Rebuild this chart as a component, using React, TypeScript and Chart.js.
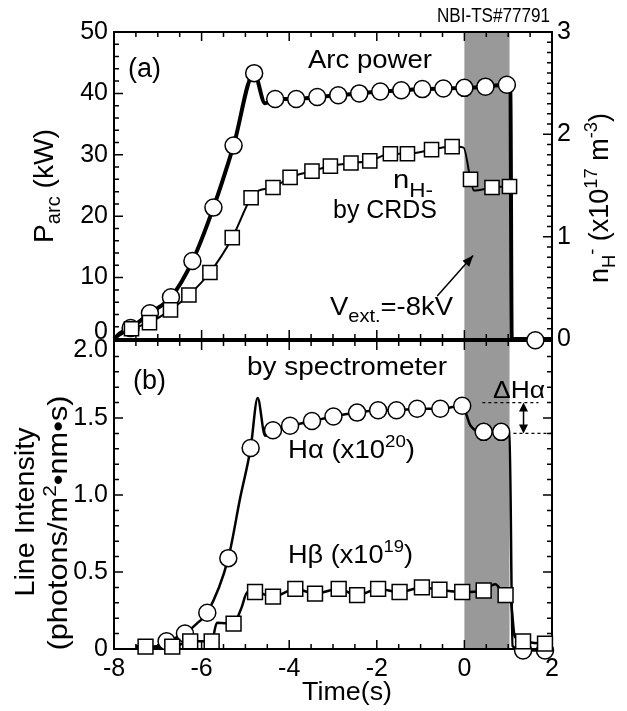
import React, { useEffect, useRef } from "react";
import { Chart, registerables } from "chart.js";
Chart.register(...registerables);

const FONT = '"Liberation Sans", Arial, Helvetica, sans-serif';

// ---------- panel (a) ----------
const arcTime = [-7.62, -7.18, -6.70, -6.21, -5.73, -5.27, -4.80, -4.32, -3.84, -3.36, -2.88, -2.40, -1.92, -1.44, -0.96, -0.48, 0.0, 0.48, 0.97, 1.62];
const arcPower = [1.8, 4.2, 6.8, 12.7, 21.4, 31.5, 43.3, 39.1, 39.1, 39.4, 39.7, 40.0, 40.3, 40.5, 40.7, 40.8, 40.9, 41.1, 41.4, -0.2];
const arcLineTime = [-8.0, -7.85, -7.62, -7.18, -6.70, -6.21, -5.73, -5.27, -4.80, -4.55, -4.32, -3.84, -3.36, -2.88, -2.40, -1.92, -1.44, -0.96, -0.48, 0.0, 0.48, 0.97, 1.05, 1.08, 1.62, 2.0];
const arcLinePower = [0.0, 1.0, 1.8, 4.2, 6.8, 12.7, 21.4, 31.5, 43.3, 38.4, 39.1, 39.1, 39.4, 39.7, 40.0, 40.3, 40.5, 40.7, 40.8, 40.9, 41.1, 41.4, 41.0, 0.0, 0.0, 0.0];

const nTime = [-7.60, -7.19, -6.71, -6.29, -5.81, -5.30, -4.87, -4.37, -3.98, -3.48, -3.06, -2.59, -2.16, -1.69, -1.30, -0.75, -0.28, 0.14, 0.63, 1.03];
const nDensity = [0.10, 0.16, 0.285, 0.43, 0.65, 0.99, 1.38, 1.48, 1.58, 1.64, 1.69, 1.72, 1.74, 1.81, 1.81, 1.85, 1.88, 1.56, 1.48, 1.49];
const nLineTime = [-8.0, -7.60, -7.19, -6.71, -6.29, -5.81, -5.30, -4.87, -4.70, -4.37, -3.98, -3.48, -3.06, -2.59, -2.16, -1.69, -1.30, -0.75, -0.28, -0.02, 0.14, 0.22, 0.63, 1.03, 1.07, 1.09, 2.0];
const nLineDensity = [0.0, 0.10, 0.16, 0.285, 0.43, 0.65, 0.99, 1.38, 1.45, 1.48, 1.58, 1.64, 1.69, 1.72, 1.74, 1.81, 1.81, 1.85, 1.88, 1.87, 1.56, 1.45, 1.48, 1.49, 1.45, 0.0, 0.0];

// ---------- panel (b) ----------
const haTime = [-6.80, -6.38, -5.87, -5.39, -4.88, -4.37, -3.98, -3.48, -2.99, -2.45, -1.97, -1.55, -1.08, -0.55, -0.05, 0.44, 0.84, 1.34, 1.84];
const haValue = [0.05, 0.10, 0.235, 0.59, 1.305, 1.42, 1.45, 1.48, 1.51, 1.535, 1.55, 1.55, 1.56, 1.56, 1.58, 1.41, 1.41, -0.01, -0.01];
const haLineTime = [-7.5, -7.0, -6.80, -6.38, -6.11, -5.87, -5.39, -5.12, -4.88, -4.72, -4.55, -4.37, -3.98, -3.48, -2.99, -2.45, -1.97, -1.55, -1.08, -0.55, -0.05, 0.14, 0.44, 0.84, 1.03, 1.10, 1.34, 1.84, 2.0];
const haLineValue = [0.01, 0.02, 0.05, 0.10, 0.165, 0.235, 0.59, 0.98, 1.305, 1.63, 1.385, 1.42, 1.45, 1.48, 1.51, 1.535, 1.55, 1.55, 1.56, 1.56, 1.58, 1.45, 1.41, 1.41, 1.40, 0.02, -0.01, -0.01, 0.02];

const hbTime = [-7.28, -6.67, -6.26, -5.77, -5.27, -4.78, -4.37, -3.86, -3.41, -2.87, -2.45, -1.97, -1.48, -0.97, -0.57, -0.05, 0.44, 0.94, 1.34, 1.84];
const hbValue = [0.015, 0.015, 0.05, 0.05, 0.165, 0.37, 0.34, 0.39, 0.36, 0.39, 0.35, 0.39, 0.37, 0.40, 0.385, 0.37, 0.38, 0.35, 0.05, 0.035];
const hbLineTime = [-7.5, -7.28, -6.67, -6.26, -5.77, -5.65, -5.27, -5.10, -4.95, -4.78, -4.37, -3.86, -3.41, -2.87, -2.45, -1.97, -1.48, -0.97, -0.57, -0.05, 0.44, 0.70, 0.94, 1.05, 1.15, 1.34, 1.84, 2.0];
const hbLineValue = [0.02, 0.015, 0.015, 0.05, 0.05, 0.17, 0.165, 0.26, 0.37, 0.37, 0.34, 0.39, 0.36, 0.39, 0.35, 0.39, 0.37, 0.40, 0.385, 0.37, 0.38, 0.42, 0.35, 0.33, 0.08, 0.05, 0.035, 0.04];

// ---------- axes / annotations ----------
const timeTicks = [-8, -6, -4, -2, 0, 2];
const timeTickLabels = ["-8", "-6", "-4", "-2", "0", "2"];
const powerTicks = [0, 10, 20, 30, 40, 50];
const densityTicks = [0, 1, 2, 3];
const intensityTicks = [0, 0.5, 1.0, 1.5, 2.0];
const intensityTickLabels = ["0", "0.5", "1.0", "1.5", "2.0"];
const beamOn = [0, 1.03];
const deltaHa = [1.6, 1.4];
const arrowFrom = [-0.62, 7.0];
const arrowTo = [0.2, 13.6];

type Seg = { t: string; size: number; dy?: number };

function drawRich(
  ctx: CanvasRenderingContext2D,
  segs: Seg[],
  x: number,
  y: number,
  opts: { align?: "left" | "center" | "right"; rotate?: number; width?: number } = {}
) {
  ctx.save();
  let w = 0;
  for (const s of segs) {
    ctx.font = `${s.size}px ${FONT}`;
    w += ctx.measureText(s.t).width;
  }
  const sx = opts.width ? opts.width / w : 1;
  ctx.translate(x, y);
  if (opts.rotate) ctx.rotate(opts.rotate);
  ctx.scale(sx, 1);
  let cx = opts.align === "center" ? -w / 2 : opts.align === "right" ? -w : 0;
  ctx.fillStyle = "#000";
  ctx.textAlign = "left";
  ctx.textBaseline = "alphabetic";
  for (const s of segs) {
    ctx.font = `${s.size}px ${FONT}`;
    ctx.fillText(s.t, cx, s.dy || 0);
    cx += ctx.measureText(s.t).width;
  }
  ctx.restore();
}

function ticksAlong(
  ctx: CanvasRenderingContext2D,
  scale: any,
  from: number,
  to: number,
  minor: number,
  major: number,
  fixed: number,
  dir: number,
  horizontal: boolean
) {
  ctx.beginPath();
  const n = Math.round((to - from) / minor);
  for (let k = 0; k <= n; k++) {
    const v = from + k * minor;
    const isMaj = Math.abs(v / major - Math.round(v / major)) < 1e-6;
    const len = isMaj ? 9 : 5;
    const p = scale.getPixelForValue(v);
    if (horizontal) {
      ctx.moveTo(p, fixed);
      ctx.lineTo(p, fixed + dir * len);
    } else {
      ctx.moveTo(fixed, p);
      ctx.lineTo(fixed + dir * len, p);
    }
  }
  ctx.stroke();
}

function arrowHead(ctx: CanvasRenderingContext2D, x1: number, y1: number, x2: number, y2: number, len: number, half: number) {
  const ang = Math.atan2(y2 - y1, x2 - x1);
  ctx.beginPath();
  ctx.moveTo(x2, y2);
  ctx.lineTo(x2 - len * Math.cos(ang) + half * Math.sin(ang), y2 - len * Math.sin(ang) - half * Math.cos(ang));
  ctx.lineTo(x2 - len * Math.cos(ang) - half * Math.sin(ang), y2 - len * Math.sin(ang) + half * Math.cos(ang));
  ctx.closePath();
  ctx.fill();
}

const pts = (xs: number[], ys: number[]) => xs.map((x, i) => ({ x, y: ys[i] }));

const tickFont = { family: FONT, size: 25 };

function lineDs(data: any, axis: string, width: number, order: number) {
  return {
    data,
    yAxisID: axis,
    showLine: true,
    borderColor: "#000",
    borderWidth: width,
    borderJoinStyle: "round",
    pointRadius: 0,
    cubicInterpolationMode: "monotone",
    order,
    clip: false as any,
  };
}
function markerDs(data: any, axis: string, style: string, radius: number, order: number) {
  return {
    data,
    yAxisID: axis,
    showLine: false,
    pointStyle: style,
    pointRadius: radius,
    pointBackgroundColor: "#fff",
    pointBorderColor: "#000",
    pointBorderWidth: 1.5,
    order,
    clip: false as any,
  };
}

const topPlugin = {
  id: "topDeco",
  beforeDatasetsDraw(chart: any) {
    const ctx: CanvasRenderingContext2D = chart.ctx;
    const a = chart.chartArea;
    const x = chart.scales.x;
    const y = chart.scales.y;
    const yR = chart.scales.yR;
    ctx.save();
    const x0 = x.getPixelForValue(beamOn[0]);
    const x1 = x.getPixelForValue(beamOn[1]);
    ctx.fillStyle = "#999999";
    ctx.fillRect(x0, a.top, x1 - x0, a.bottom - a.top);
    ctx.strokeStyle = "#000";
    ctx.lineWidth = 2;
    ctx.strokeRect(a.left, a.top, a.right - a.left, a.bottom - a.top);
    ctx.lineWidth = 1.5;
    ticksAlong(ctx, x, -8, 2, 0.5, 2, a.top, 1, true);
    ticksAlong(ctx, x, -8, 2, 0.5, 2, a.bottom, -1, true);
    ticksAlong(ctx, y, 0, 50, 2, 10, a.left, 1, false);
    ticksAlong(ctx, yR, 0, 3, 0.1, 1, a.right, -1, false);
    ctx.restore();
  },
  afterDatasetsDraw(chart: any) {
    const ctx: CanvasRenderingContext2D = chart.ctx;
    const x = chart.scales.x;
    const y = chart.scales.y;
    ctx.save();
    ctx.font = `25px ${FONT}`;
    ctx.fillStyle = "#000";
    ctx.textAlign = "right";
    ctx.textBaseline = "middle";
    ctx.fillText("0", 108, y.getPixelForValue(0) - 7);

    drawRich(ctx, [{ t: "NBI-TS#77791", size: 20 }], 437, 22, { width: 113 });
    drawRich(ctx, [{ t: "(a)", size: 27 }], 128, 77);
    drawRich(ctx, [{ t: "Arc power", size: 26 }], 308, 68, { width: 124 });
    drawRich(ctx, [{ t: "n", size: 26 }, { t: "H-", size: 20, dy: 9 }], 393, 188, { width: 40 });
    drawRich(ctx, [{ t: "by CRDS", size: 26 }], 333, 218, { width: 104 });
    drawRich(
      ctx,
      [{ t: "V", size: 26 }, { t: "ext.", size: 19, dy: 7 }, { t: "=-8kV", size: 26 }],
      330,
      315,
      { width: 123 }
    );
    const ax1 = x.getPixelForValue(arrowFrom[0]);
    const ay1 = y.getPixelForValue(arrowFrom[1]);
    const ax2 = x.getPixelForValue(arrowTo[0]);
    const ay2 = y.getPixelForValue(arrowTo[1]);
    ctx.strokeStyle = "#000";
    ctx.fillStyle = "#000";
    ctx.lineWidth = 1.5;
    ctx.beginPath();
    ctx.moveTo(ax1, ay1);
    ctx.lineTo(ax2, ay2);
    ctx.stroke();
    arrowHead(ctx, ax1, ay1, ax2, ay2, 11, 4.5);

    drawRich(
      ctx,
      [{ t: "P", size: 28 }, { t: "arc", size: 20, dy: 7 }, { t: " (kW)", size: 28 }],
      53,
      186,
      { align: "center", rotate: -Math.PI / 2, width: 114 }
    );
    drawRich(
      ctx,
      [
        { t: "n", size: 28 },
        { t: "H", size: 19, dy: 7 },
        { t: "-", size: 19, dy: -10 },
        { t: " (x10", size: 28 },
        { t: "17", size: 19, dy: -11 },
        { t: " m", size: 28 },
        { t: "-3", size: 19, dy: -11 },
        { t: ")", size: 28 },
      ],
      608,
      198,
      { align: "center", rotate: -Math.PI / 2, width: 170 }
    );
    ctx.restore();
  },
};

const bottomPlugin = {
  id: "bottomDeco",
  beforeDatasetsDraw(chart: any) {
    const ctx: CanvasRenderingContext2D = chart.ctx;
    const a = chart.chartArea;
    const x = chart.scales.x;
    const y = chart.scales.y;
    ctx.save();
    const x0 = x.getPixelForValue(beamOn[0]);
    const x1 = x.getPixelForValue(beamOn[1]);
    ctx.fillStyle = "#999999";
    ctx.fillRect(x0, a.top, x1 - x0, a.bottom - a.top);
    ctx.strokeStyle = "#000";
    ctx.lineWidth = 2;
    ctx.strokeRect(a.left, a.top, a.right - a.left, a.bottom - a.top);
    ctx.lineWidth = 1.5;
    ticksAlong(ctx, x, -8, 2, 0.5, 2, a.top, 1, true);
    ticksAlong(ctx, x, -8, 2, 0.5, 2, a.bottom, -1, true);
    ticksAlong(ctx, y, 0, 2, 0.1, 0.5, a.left, 1, false);
    ticksAlong(ctx, y, 0, 2, 0.1, 0.5, a.right, -1, false);

    const yA = y.getPixelForValue(deltaHa[0]);
    const yB = y.getPixelForValue(deltaHa[1]);
    ctx.setLineDash([3, 3]);
    ctx.lineWidth = 1.2;
    ctx.beginPath();
    ctx.moveTo(x.getPixelForValue(0.41), yA);
    ctx.lineTo(x.getPixelForValue(1.69), yA);
    ctx.moveTo(x.getPixelForValue(1.12), yB);
    ctx.lineTo(x.getPixelForValue(2.0), yB);
    ctx.stroke();
    ctx.setLineDash([]);
    const xm = x.getPixelForValue(1.35);
    ctx.lineWidth = 1.5;
    ctx.beginPath();
    ctx.moveTo(xm, yA + 4);
    ctx.lineTo(xm, yB - 4);
    ctx.stroke();
    ctx.fillStyle = "#000";
    arrowHead(ctx, xm, yB, xm, yA, 9, 4.5);
    arrowHead(ctx, xm, yA, xm, yB, 9, 4.5);
    ctx.restore();
  },
  afterDatasetsDraw(chart: any) {
    const ctx: CanvasRenderingContext2D = chart.ctx;
    const y = chart.scales.y;
    ctx.save();
    ctx.font = `25px ${FONT}`;
    ctx.fillStyle = "#000";
    ctx.textAlign = "right";
    ctx.textBaseline = "middle";
    ctx.fillText(intensityTickLabels[4], 108, y.getPixelForValue(intensityTicks[4]) + 9);

    const off = 320;
    drawRich(ctx, [{ t: "(b)", size: 27 }], 133, 389 - off);
    drawRich(ctx, [{ t: "by spectrometer", size: 26 }], 247, 375 - off, { width: 200 });
    drawRich(ctx, [{ t: "\u0394H\u03b1", size: 23 }], 493, 398 - off, { width: 52 });
    drawRich(
      ctx,
      [{ t: "H\u03b1 (x10", size: 25 }, { t: "20", size: 17, dy: -11 }, { t: ")", size: 25 }],
      288,
      458 - off,
      { width: 127 }
    );
    drawRich(
      ctx,
      [{ t: "H\u03b2 (x10", size: 25 }, { t: "19", size: 17, dy: -11 }, { t: ")", size: 25 }],
      288,
      563 - off,
      { width: 125 }
    );
    drawRich(ctx, [{ t: "Time(s)", size: 26 }], 347, 700 - off, { align: "center", width: 90 });
    drawRich(ctx, [{ t: "Line Intensity", size: 28 }], 34, 512 - off, {
      align: "center",
      rotate: -Math.PI / 2,
      width: 169,
    });
    drawRich(
      ctx,
      [{ t: "(photons/m", size: 28 }, { t: "2", size: 19, dy: -11 }, { t: "\u2022nm\u2022s)", size: 28 }],
      67,
      523 - off,
      { align: "center", rotate: -Math.PI / 2, width: 255 }
    );
    ctx.restore();
  },
};

function topConfig(): any {
  return {
    type: "scatter",
    data: {
      datasets: [
        lineDs(pts(nLineTime, nLineDensity), "yR", 2, 6),
        lineDs(pts(arcLineTime, arcLinePower), "y", 4, 5),
        markerDs(pts(arcTime, arcPower), "y", "circle", 8.5, 2),
        markerDs(pts(nTime, nDensity), "yR", "rect", 10, 1),
      ],
    },
    options: {
      responsive: false,
      animation: false,
      events: [],
      layout: { padding: { top: 32, bottom: 20, left: 0, right: 0 } },
      plugins: { legend: { display: false }, tooltip: { enabled: false } },
      scales: {
        x: { type: "linear", min: -8, max: 2, display: false },
        y: {
          type: "linear",
          position: "left",
          min: 0,
          max: 50,
          afterBuildTicks: (s: any) => {
            s.ticks = powerTicks.map((v) => ({ value: v }));
          },
          afterFit: (s: any) => {
            s.width = 114;
          },
          grid: { display: false, drawTicks: false },
          border: { display: false },
          ticks: {
            font: tickFont,
            color: "#000",
            padding: 6,
            autoSkip: false,
            callback: (v: number) => (v === 0 ? "" : String(v)),
          },
        },
        yR: {
          type: "linear",
          position: "right",
          min: 0,
          max: 3,
          afterBuildTicks: (s: any) => {
            s.ticks = densityTicks.map((v) => ({ value: v }));
          },
          afterFit: (s: any) => {
            s.width = 75;
          },
          grid: { display: false, drawTicks: false },
          border: { display: false },
          ticks: { font: tickFont, color: "#000", padding: 5, autoSkip: false, callback: (v: number) => String(v) },
        },
      },
    },
    plugins: [topPlugin],
  };
}

function bottomConfig(): any {
  return {
    type: "scatter",
    data: {
      datasets: [
        lineDs(pts(hbLineTime, hbLineValue), "y", 2.5, 6),
        lineDs(pts(haLineTime, haLineValue), "y", 2.5, 5),
        markerDs(pts(haTime, haValue), "y", "circle", 8.5, 2),
        markerDs(pts(hbTime, hbValue), "y", "rect", 10.5, 1),
      ],
    },
    options: {
      responsive: false,
      animation: false,
      events: [],
      layout: { padding: { top: 20, bottom: 0, left: 0, right: 75 } },
      plugins: { legend: { display: false }, tooltip: { enabled: false } },
      scales: {
        x: {
          type: "linear",
          min: -8,
          max: 2,
          afterBuildTicks: (s: any) => {
            s.ticks = timeTicks.map((v) => ({ value: v }));
          },
          afterFit: (s: any) => {
            s.height = 62;
          },
          grid: { display: false, drawTicks: false },
          border: { display: false },
          ticks: {
            font: tickFont,
            color: "#000",
            padding: 5,
            autoSkip: false,
            maxRotation: 0,
            callback: (v: number, i: number) => timeTickLabels[i],
          },
        },
        y: {
          type: "linear",
          position: "left",
          min: 0,
          max: 2,
          afterBuildTicks: (s: any) => {
            s.ticks = intensityTicks.map((v) => ({ value: v }));
          },
          afterFit: (s: any) => {
            s.width = 114;
          },
          grid: { display: false, drawTicks: false },
          border: { display: false },
          ticks: {
            font: tickFont,
            color: "#000",
            padding: 6,
            autoSkip: false,
            callback: (v: number, i: number) => (i === 4 ? "" : intensityTickLabels[i]),
          },
        },
      },
    },
    plugins: [bottomPlugin],
  };
}

export default function App() {
  const topRef = useRef<HTMLCanvasElement>(null);
  const botRef = useRef<HTMLCanvasElement>(null);
  useEffect(() => {
    const c2 = new Chart(botRef.current as HTMLCanvasElement, bottomConfig());
    const c1 = new Chart(topRef.current as HTMLCanvasElement, topConfig());
    return () => {
      c1.destroy();
      c2.destroy();
    };
  }, []);
  return (
    <div style={{ position: "absolute", left: 0, top: 0, width: 627, height: 711, background: "#fff", overflow: "hidden" }}>
      <canvas
        ref={botRef}
        width={627}
        height={391}
        style={{ position: "absolute", left: 0, top: 320, width: 627, height: 391, display: "block" }}
      />
      <canvas
        ref={topRef}
        width={627}
        height={360}
        style={{ position: "absolute", left: 0, top: 0, width: 627, height: 360, display: "block" }}
      />
    </div>
  );
}
